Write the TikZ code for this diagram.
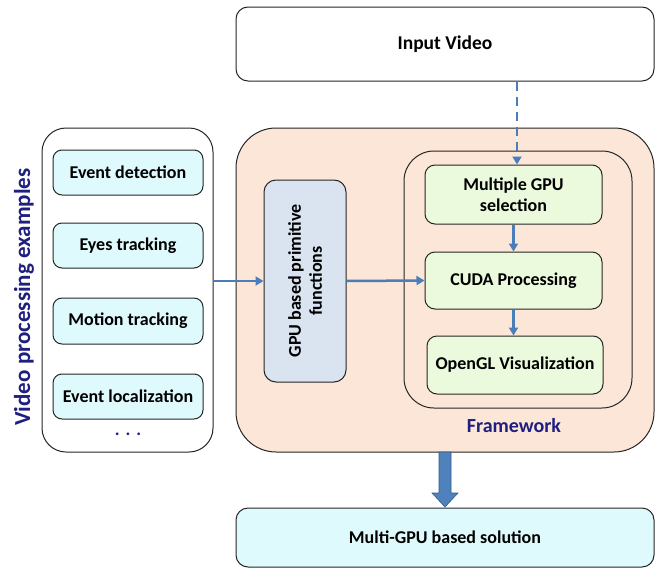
\documentclass[tikz,border=0pt]{standalone}
\usepackage{fontspec}
\setmainfont{Carlito}
\usetikzlibrary{arrows.meta,shapes.arrows}
\definecolor{peach}{HTML}{FCE6D7}
\definecolor{lgreen}{HTML}{EBFADD}
\definecolor{lcyan}{HTML}{DFFAFC}
\definecolor{lblue}{HTML}{DAE3F0}
\definecolor{arr}{HTML}{4A7EBB}
\definecolor{navy}{HTML}{1F1F80}
\definecolor{bodyarr}{HTML}{4F81BD}
\tikzset{
  box/.style={draw=black!85, line width=1pt, rounded corners=#1, inner sep=0pt},
  box/.default=10pt,
  lab/.style={font=\bfseries\fontsize{18}{21}\selectfont, align=center},
  conn/.style={draw=arr, line width=2.5pt, -{Triangle[length=8pt,width=9pt]}},
}
\begin{document}
\begin{tikzpicture}[x=1pt,y=-1pt]
\useasboundingbox (0,0) rectangle (662,568);
% input video
\node[box=12pt, fill=white, minimum width=418pt, minimum height=74pt, lab, font=\bfseries\fontsize{19.5}{22}\selectfont] (in) at (445,44) {Input Video};
% framework
\node[box=40pt, fill=peach, minimum width=418pt, minimum height=324pt] (fw) at (445,290) {};
\node[box=30pt, minimum width=228pt, minimum height=257pt] (inner) at (518,279.5) {};
\node[box=10pt, fill=lgreen, minimum width=177pt, minimum height=59pt, lab] (mgpu) at (513.5,194.5) {Multiple GPU\\selection};
\node[box=10pt, fill=lgreen, minimum width=177pt, minimum height=57pt, lab] (cuda) at (513.5,280.5) {CUDA Processing};
\node[box=10pt, fill=lgreen, minimum width=176pt, minimum height=58pt, lab] (ogl) at (515,365) {OpenGL Visualization};
\node[box=12pt, fill=lblue, minimum width=82pt, minimum height=202pt] (gpuf) at (305,281) {};
\node[lab, rotate=90] at (gpuf.center) {GPU based primitive\\functions};
\node[font=\bfseries\fontsize{20}{24}\selectfont, text=navy] (fwl) at (514,426) {Framework};
% left panel
\node[box=24pt, fill=white, minimum width=171pt, minimum height=324pt] (left) at (127.5,290) {};
\node[box=9pt, fill=lcyan, minimum width=150pt, minimum height=45pt, lab] (e1) at (128,172.5) {Event detection};
\node[box=9pt, fill=lcyan, minimum width=150pt, minimum height=45pt, lab] (e2) at (128,245.5) {Eyes tracking};
\node[box=9pt, fill=lcyan, minimum width=150pt, minimum height=46pt, lab] (e3) at (128,321) {Motion tracking};
\node[box=9pt, fill=lcyan, minimum width=150pt, minimum height=45pt, lab] (e4) at (128,396.5) {Event localization};
\node[font=\bfseries\fontsize{18}{21}\selectfont, text=navy] (dots) at (128,434) {.\hspace{6pt}.\hspace{6pt}.};
\node[font=\bfseries\fontsize{23}{27}\selectfont, text=navy, rotate=90] (vpe) at (24,297) {Video processing examples};
% bottom
\node[box=12pt, fill=lcyan, minimum width=418pt, minimum height=59pt, lab] (out) at (445,537.5) {Multi-GPU based solution};
% connectors
\coordinate (a1) at (517,81);
\draw[conn, dashed, dash pattern=on 9pt off 6pt] (in.south -| a1) -- (mgpu.north -| a1);
\draw[conn] (mgpu.south) -- (cuda.north);
\draw[conn] (cuda.south) -- (cuda.south |- ogl.north);
\draw[conn] (left.east |- gpuf.center) -- (gpuf.west);
\draw[conn] (gpuf.east) -- (cuda.west);
% block arrow
\draw[draw=bodyarr!70!black, fill=bodyarr, line width=0.6pt]
  (439,452) -- (451,452) -- (451,493) -- (458,493) -- (445,507) -- (432,493) -- (439,493) -- cycle;
\end{tikzpicture}
\end{document}
